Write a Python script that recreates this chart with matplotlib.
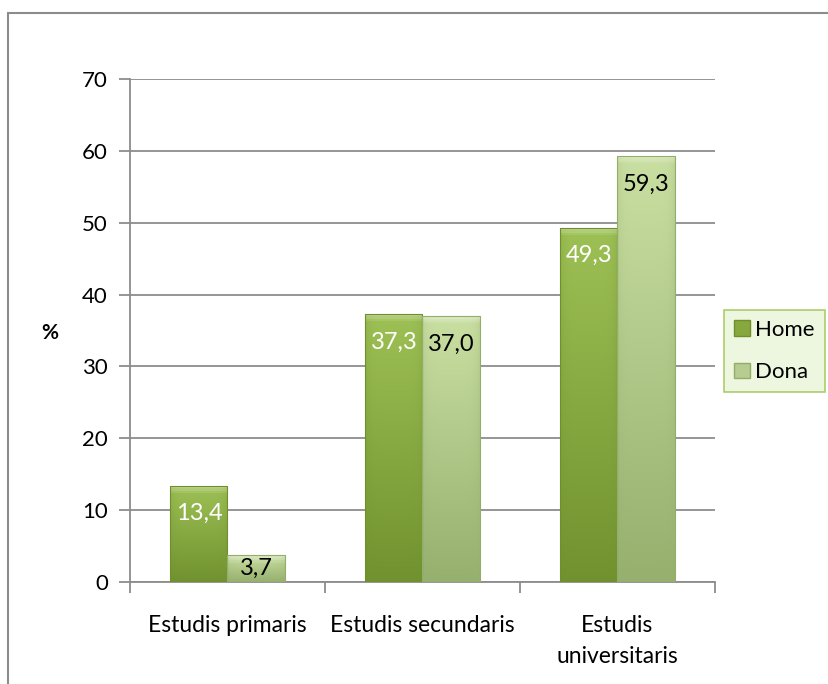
import matplotlib
matplotlib.use("Agg")
import matplotlib.pyplot as plt
import numpy as np
from matplotlib.patches import Rectangle, Patch
from matplotlib.colors import LinearSegmentedColormap

categories = ["Estudis primaris", "Estudis secundaris", "Estudis\nuniversitaris"]
series_names = ["Home", "Dona"]
home = [13.4, 37.3, 49.3]
dona = [3.7, 37.0, 59.3]
yticks = [0, 10, 20, 30, 40, 50, 60, 70]

FONT = "Lato"
plt.rcParams['font.family'] = [FONT, 'DejaVu Sans']

fig = plt.figure(figsize=(8.29, 6.84), dpi=100)
# outer chart border
fig.patches.append(Rectangle((8/829, -0.1), 1.2, 1 - 13/684 + 0.1, transform=fig.transFigure,
                             fill=False, edgecolor="#8c8c8c", linewidth=1.5, zorder=0))

ax = fig.add_axes([130/829, 1 - 582/684, 585/829, 503/684])
x = np.arange(len(categories))
w = 0.293

home_cols = ("#a3c65a", "#6e8f2c")
dona_cols = ("#cfe5a8", "#93ad6b")

bars_h = ax.bar(x - w/2, home, w, color=home_cols[1], zorder=3, linewidth=0)
bars_d = ax.bar(x + w/2, dona, w, color=dona_cols[1], zorder=3, linewidth=0)

def shade(bars, cols):
    cmap = LinearSegmentedColormap.from_list("g", [cols[1], cols[0]])
    for b in bars:
        x0, y0 = b.get_x(), b.get_y()
        bw, bh = b.get_width(), b.get_height()
        grad = np.linspace(0, 1, 256).reshape(-1, 1)
        hx = np.linspace(-1, 1, 64)
        edge = 1 - 0.25 * np.abs(hx) ** 6
        img = grad * 0.85 * edge[None, :] + 0.05
        im = ax.imshow(img, cmap=cmap, vmin=0, vmax=1, origin="lower", aspect="auto",
                       extent=(x0, x0 + bw, y0, y0 + bh), zorder=3.5, interpolation="bilinear")
        im.set_clip_path(b)
        # soft bevel highlight at top
        bev = min(1.0, bh * 0.3)
        for k, a in enumerate([0.10, 0.12, 0.14]):
            ax.add_patch(Rectangle((x0, y0 + bh - bev * (1 - k / 3)), bw, bev * (1 - k / 3),
                                   facecolor="white", alpha=a, linewidth=0, zorder=3.6))
        ax.add_patch(Rectangle((x0, y0), bw, bh, fill=False, edgecolor=cols[1],
                               linewidth=0.8, zorder=3.7))

shade(bars_h, home_cols)
shade(bars_d, dona_cols)

def labels(bars, vals, color):
    for b, v in zip(bars, vals):
        yc = max(v - 3.9, v / 2)
        ax.text(b.get_x() + b.get_width()/2, yc, f"{v:.1f}".replace(".", ","),
                ha="center", va="center", fontsize=17, color=color, zorder=5)

labels(bars_h, home, "white")
labels(bars_d, dona, "black")

ax.set_xlim(-0.5, 2.5)
ax.set_ylim(0, 70)
ax.set_yticks(yticks)
ax.set_yticklabels([str(t) for t in yticks], fontsize=16)
ax.yaxis.grid(True, color="#8c8c8c", linewidth=1.3, zorder=0)
ax.set_axisbelow(True)

ax.set_xticks([-0.5, 0.5, 1.5, 2.5])
ax.set_xticklabels([])
ax.set_xticks(x, minor=True)
ax.set_xticklabels(categories, minor=True, fontsize=16.5, linespacing=1.55)
ax.tick_params(axis="x", which="minor", length=0, pad=24)
ax.tick_params(axis="x", which="major", length=8, width=1.3, color="#8c8c8c")
ax.tick_params(axis="y", length=8, width=1.3, color="#8c8c8c", pad=8)

for s in ["top", "right"]:
    ax.spines[s].set_visible(False)
for s in ["left", "bottom"]:
    ax.spines[s].set_color("#8c8c8c")
    ax.spines[s].set_linewidth(1.3)

fig.text(50/829, 1 - 333/684, "%", fontsize=15, fontweight="bold", ha="center", va="center")

handles = [Patch(facecolor="#86a83e", edgecolor="#6e8f2c"), Patch(facecolor="#b6cc90", edgecolor="#93ad6b")]
leg = fig.legend(handles, series_names, loc="upper left",
                 bbox_to_anchor=(724/829, 1 - 310/684), fontsize=16, frameon=True, fancybox=False,
                 handlelength=0.7, handleheight=0.7, handletextpad=0.25, labelspacing=1.0,
                 borderpad=0.45, borderaxespad=0)
leg.get_frame().set_facecolor("#e9f4d6")
leg.get_frame().set_edgecolor("#9bc04a")
leg.get_frame().set_linewidth(1.2)

fig.savefig("out.png", dpi=100)
